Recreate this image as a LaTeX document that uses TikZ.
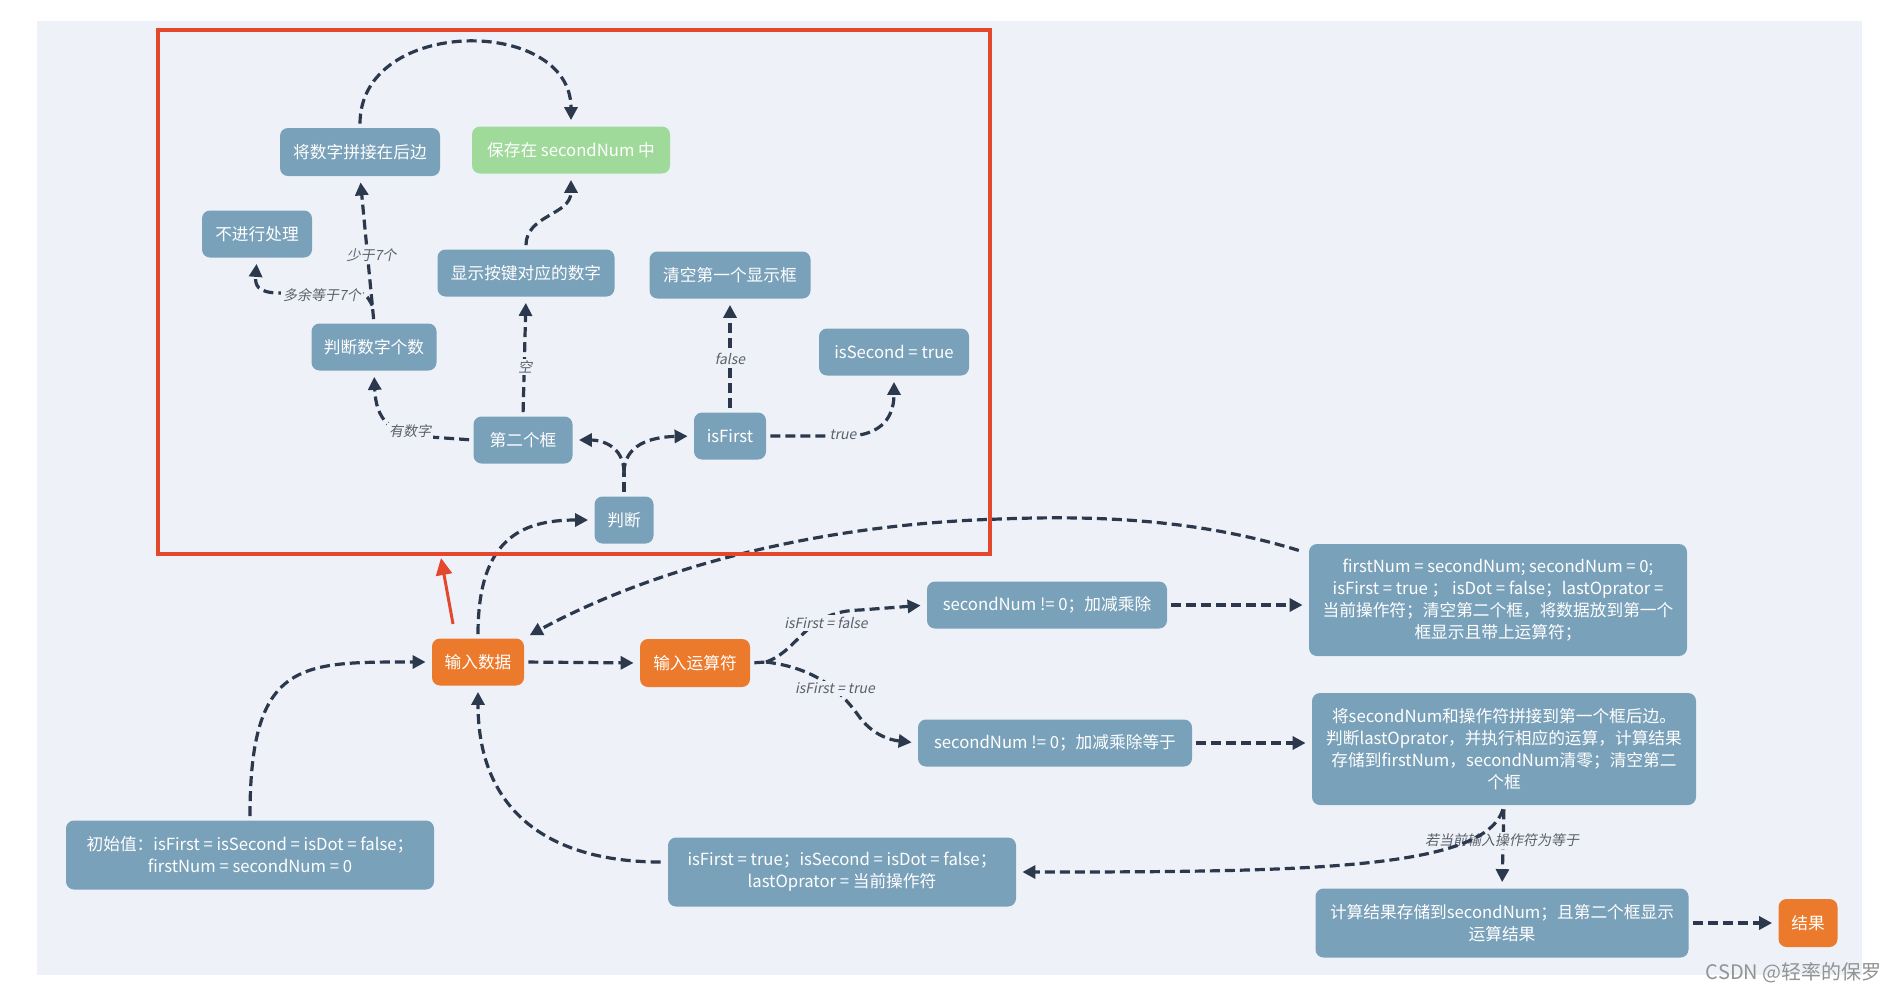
\documentclass[tikz,border=0pt]{standalone}
\usepackage{fontspec}
\setmainfont{Noto Sans CJK SC}
\newfontfamily\lblfont{Noto Sans CJK SC}[FakeSlant=0.2]
\usetikzlibrary{arrows.meta,calc}
\definecolor{nodeblue}{HTML}{7AA1BA}
\definecolor{nodegreen}{HTML}{A0DA9B}
\definecolor{nodeorange}{HTML}{EC7A2C}
\definecolor{arrowc}{HTML}{2C384C}
\definecolor{panel}{HTML}{EEF2F8}
\definecolor{redc}{HTML}{E4482C}
\definecolor{lblgray}{HTML}{5A606B}
\begin{document}
\begin{tikzpicture}[x=0.5pt,y=-0.5pt,
  box/.style={draw=none, fill=nodeblue, rounded corners=4pt, text=white,
    font=\fontsize{8.35}{11}\selectfont, inner sep=0pt, align=center},
  greenbox/.style={box, fill=nodegreen},
  orangebox/.style={box, fill=nodeorange},
  flow/.style={draw=arrowc, line width=1.6pt, dash pattern=on 5pt off 2.5pt,
    -{Triangle[length=6.5pt,width=6.5pt]}, shorten >=3pt, shorten <=2pt},
  flowplain/.style={draw=arrowc, line width=1.6pt, dash pattern=on 5pt off 2.5pt, shorten <=2pt},
  lbl/.style={font=\lblfont\fontsize{7}{8}\selectfont, text=lblgray, fill=panel, inner sep=1pt},
]
\useasboundingbox (0,0) rectangle (1894,992);
\fill[white] (0,0) rectangle (1894,992);
\fill[panel] (37,21) rectangle (1862,975);

% nodes
\node[box, minimum width=80pt, minimum height=24pt] (n1) at (360,152) {将数字拼接在后边};
\node[greenbox, minimum width=99pt, minimum height=23.5pt] (n2) at (571,150) {保存在 secondNum 中};
\node[box, minimum width=55pt, minimum height=23.5pt] (n3) at (257,234) {不进行处理};
\node[box, minimum width=88.5pt, minimum height=23.5pt] (n4) at (526,273) {显示按键对应的数字};
\node[box, minimum width=80.5pt, minimum height=23.5pt] (n5) at (730,275) {清空第一个显示框};
\node[box, minimum width=75pt, minimum height=23.5pt] (n6) at (894,352) {isSecond = true};
\node[box, minimum width=62.5pt, minimum height=23.5pt] (n7) at (374,347) {判断数字个数};
\node[box, minimum width=49.5pt, minimum height=23.5pt] (n8) at (523,440) {第二个框};
\node[box, minimum width=36pt, minimum height=23.5pt] (n9) at (730,436) {isFirst};
\node[box, minimum width=29.5pt, minimum height=23.5pt] (n10) at (624,520) {判断};
\node[orangebox, minimum width=46pt, minimum height=23.5pt] (n11) at (478,662) {输入数据};
\node[orangebox, minimum width=55pt, minimum height=24pt] (n12) at (695,663) {输入运算符};
\node[box, minimum width=120pt, minimum height=23.5pt] (n13) at (1047,605) {secondNum != 0；加减乘除};
\node[box, minimum width=137pt, minimum height=23.5pt] (n14) at (1055,743) {secondNum != 0；加减乘除等于};
\node[box, minimum width=189pt, minimum height=56pt] (n15) at (1498,600) {firstNum = secondNum; secondNum = 0;\\isFirst = true ； isDot = false；lastOprator =\\当前操作符；清空第二个框，将数据放到第一个\\框显示且带上运算符；};
\node[box, minimum width=192pt, minimum height=56pt] (n16) at (1504,749) {将secondNum和操作符拼接到第一个框后边。\\判断lastOprator，并执行相应的运算，计算结果\\存储到firstNum，secondNum清零；清空第二\\个框};
\node[box, minimum width=184pt, minimum height=34.5pt] (n17) at (250,855) {初始值：isFirst = isSecond = isDot = false；\\firstNum = secondNum = 0};
\node[box, minimum width=174pt, minimum height=34.5pt] (n18) at (842,872) {isFirst = true；isSecond = isDot = false；\\lastOprator = 当前操作符};
\node[box, minimum width=186.5pt, minimum height=34.5pt] (n19) at (1502,923) {计算结果存储到secondNum；且第二个框显示\\运算结果};
\node[orangebox, minimum width=29.5pt, minimum height=24pt] (n20) at (1808,923) {结果};

% helper coordinates
\coordinate (br) at ($(n7.north)!0.12!(n1.south)$);
\coordinate (jb) at (624,473);
\coordinate (sp) at (766,662);
\coordinate (rs) at (453,624);
\coordinate (re) at (441,558);

% top region edges
\draw[flow] (n1.north) .. controls (360,16) and (571,16) .. (n2.north);
\draw[flow] (n4.north) .. controls (526,215) and (571,215) .. (n2.south);
\draw[flow] (n7.north) -- (n1.south);
\draw[flow, shorten <=0pt] (br) .. controls (365,292) .. (340,293) -- (280,293) .. controls (257,293) and (255,285) .. (n3.south);
\draw[flow] (n8.west) -- (430,437) .. controls (390,435) and (376,420) .. (n7.south);
\draw[flow] (n8.north) -- (n4.south);
\draw[flowplain] (n10.north) -- (jb);
\draw[flow, shorten <=0pt] (jb) .. controls (624,445) and (600,440) .. (n8.east);
\draw[flow, shorten <=0pt] (jb) .. controls (624,445) and (650,437) .. (n9.west);
\draw[flow] (n9.north) -- (n5.south);
\draw[flow] (n9.east) -- (850,436) .. controls (888,434) and (894,410) .. (n6.south);
\draw[flow] (n11.north) .. controls (478,540) and (520,520) .. (n10.west);
% main flow
\draw[flow] ($(n15.north west)+(-6,8)$) .. controls (1200,520) and (1100,515) .. (1000,519) .. controls (800,525) and (640,575) .. (n11.north east);
\draw[flow] (n11.east) -- (n12.west);
\draw[flowplain] (n12.east) -- (sp);
\draw[flow, shorten <=0pt] (sp) .. controls (800,650) and (805,611) .. (860,610) -- (n13.west);
\draw[flow, shorten <=0pt] (sp) .. controls (815,668) and (840,690) .. (858,715) .. controls (872,735) and (890,740) .. (n14.west);
\draw[flow] (n13.east) -- (n13.east -| n15.west);
\draw[flow] (n14.east) -- (n14.east -| n16.west);
\draw[flow] (n16.south) -- (n19.north);
\draw[flow] (n17.north) .. controls (250,660) and (300,662) .. (n11.west);
\draw[flow] ($(n18.west)+(-3,-10)$) .. controls (560,862) and (478,820) .. (n11.south);
\draw[flow] (n19.east) -- (n20.west);

% red frame and arrow
\draw[redc, line width=2pt] (158,30) rectangle (990,554);
\draw[redc, line width=1.5pt, -{Triangle[length=8.5pt,width=8pt]}] (rs) -- (re);

% labels
\node[lbl] (l1) at ($(n7.north)!0.46!(n1.south)+(4,0)$) {少于7个};
\node[lbl] (l2) at (322,295) {多余等于7个};
\node[lbl] (l3) at (410,431) {有数字};
\node[lbl] (l4) at (525,367) {空};
\node[lbl] (l5) at (730,359) {false};
\node[lbl] (l6) at (843,435) {true};
\node[lbl] (l7) at (826,623) {isFirst = false};
\node[lbl] (l8) at (835,688) {isFirst = true};
\node[lbl] (l9) at (1502,840) {若当前输入操作符为等于};
\draw[flow] (n16.south) .. controls (1485,870) and (1300,872) .. (n18.east);

\node[font=\fontsize{10}{12}\selectfont, text=gray!85, anchor=east, inner sep=0pt] (wm) at (1882,973) {CSDN @轻率的保罗};
\end{tikzpicture}
\end{document}
